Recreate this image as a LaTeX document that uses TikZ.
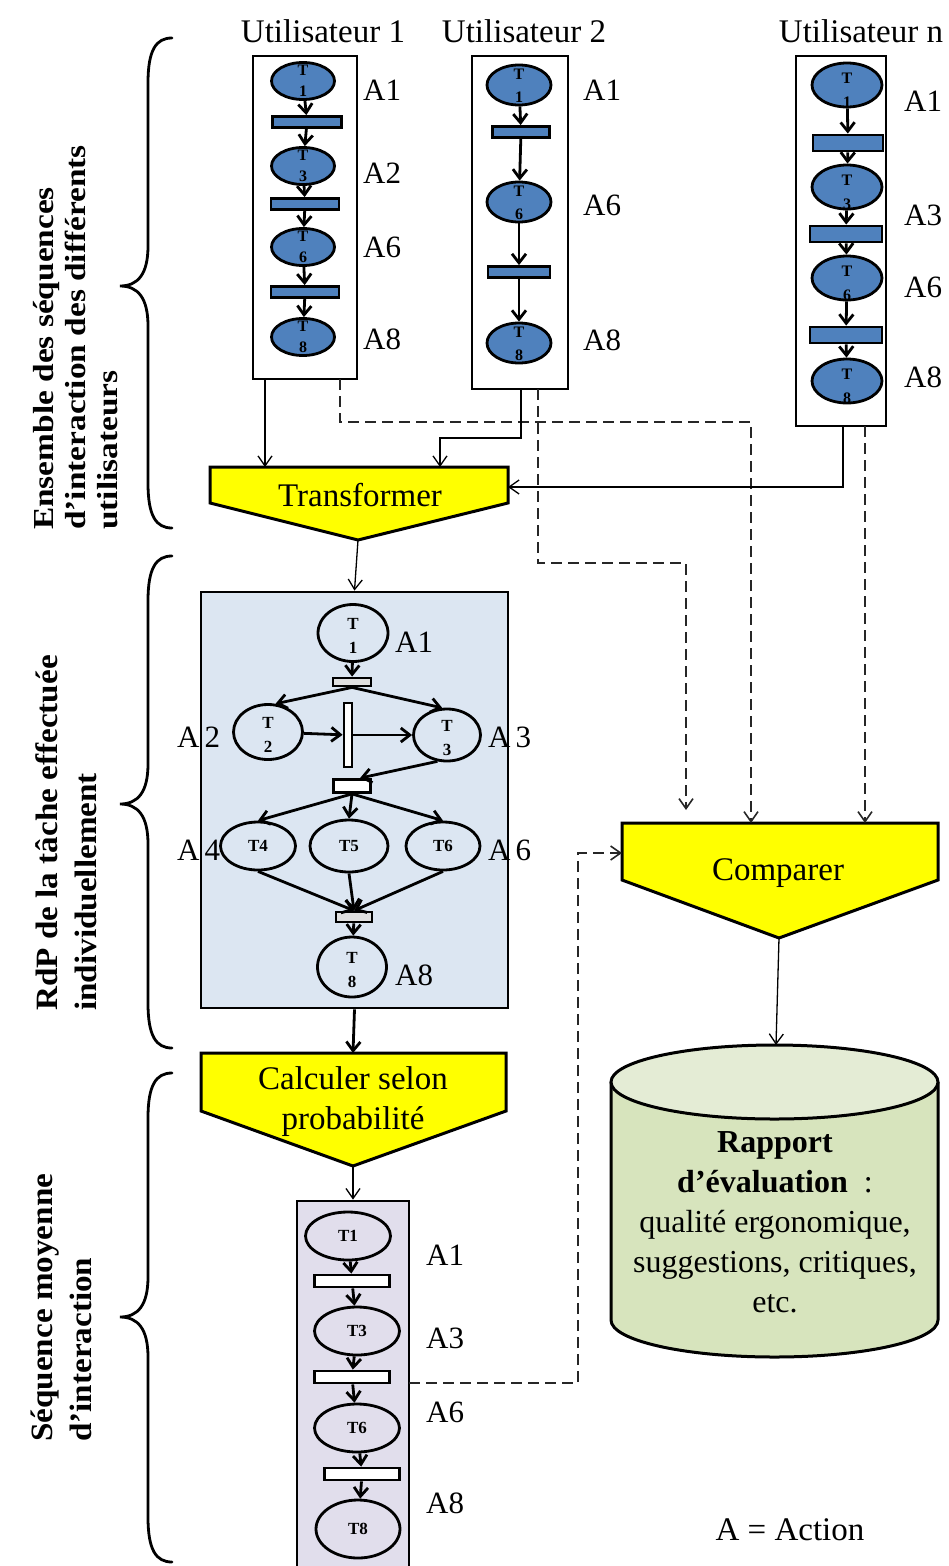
\documentclass[tikz,border=0pt]{standalone}
\usepackage{fontspec}
\usepackage{graphicx}
\setmainfont{Liberation Serif}
\usetikzlibrary{arrows.meta,shapes.geometric,calc}
\definecolor{pblue}{HTML}{4F81BD}
\definecolor{bbg}{HTML}{DCE6F2}
\definecolor{lbg}{HTML}{E1DEEC}
\definecolor{cylbody}{HTML}{D7E4BD}
\definecolor{cyltop}{HTML}{E4ECD5}
\definecolor{yel}{HTML}{FFFF00}
\newcommand\mybrace[3]{%
  \draw[bracestyle] (172,#1) .. controls (156,#1) and (148,{#1+12}) .. (148,{#1+45})
    -- (148,{#2-40}) .. controls (148,{#2-12}) and (138,#2) .. (120,#2)
    .. controls (138,#2) and (148,{#2+12}) .. (148,{#2+40})
    -- (148,{#3-45}) .. controls (148,{#3-12}) and (156,#3) .. (172,#3);}
\begin{document}
\begin{tikzpicture}[x=1pt,y=-1pt,
  sz/.style 2 args={minimum width=#1pt, minimum height=#2pt},
  ubox/.style={draw, line width=2.8pt, inner sep=0pt, rectangle},
  uplace/.style={ellipse, draw, line width=2.8pt, fill=pblue, inner sep=0pt},
  ubar/.style={rectangle, draw, line width=2.8pt, fill=pblue, inner sep=0pt},
  wplace/.style={ellipse, draw, line width=2.8pt, inner sep=0pt, font=\bfseries\fontsize{17}{20}\selectfont},
  wbar/.style={rectangle, draw, line width=2.8pt, fill=white, inner sep=0pt},
  gbar/.style={rectangle, draw, line width=2.8pt, fill=black!12, inner sep=0pt},
  parc/.style={line width=2.8pt, -{Straight Barb[length=9pt,width=14pt]}},
  ptxt/.style={font=\bfseries\fontsize{16}{21}\selectfont, align=center, inner sep=0pt},
  alab/.style={font=\fontsize{31}{36}\selectfont, anchor=base west, inner sep=0pt},
  big/.style={font=\fontsize{33}{40}\selectfont, inner sep=0pt, align=center},
  conn/.style={line width=1.3pt, -{Straight Barb[length=10pt,width=14pt]}},
  dconn/.style={conn, line width=1.6pt, draw=black!85, dash pattern=on 11pt off 6pt},
  yshape/.style={draw, line width=3pt, fill=yel, line join=miter},
  bracestyle/.style={line width=2.8pt, line cap=round},
  side/.style={rotate=90, anchor=north west, inner sep=0pt}
]
\useasboundingbox (0,0) rectangle (949,1566);
\clip (0,0) rectangle (949,1566);

% ---------- titles
\node[big, anchor=base] (t1) at (323,42) {Utilisateur 1};
\node[big, anchor=base] (t2) at (524,42) {Utilisateur 2};
\node[big, anchor=base] (tn) at (861,42) {Utilisateur n};

% ---------- user 1
\node[ubox, sz={104}{323}] (u1) at (305,217.5) {};
\node[uplace, sz={63}{37}] (u1p1) at (303,81) {};
\node[ubar, sz={69}{11}] (u1b1) at (307,122) {};
\node[uplace, sz={63}{37}] (u1p3) at (303,166) {};
\node[ubar, sz={68}{11}] (u1b2) at (305,204) {};
\node[uplace, sz={63}{37}] (u1p6) at (303,247) {};
\node[ubar, sz={68}{11}] (u1b3) at (305,292) {};
\node[uplace, sz={63}{37}] (u1p8) at (303,337) {};
\draw[parc] (u1p1) -- (u1b1);
\draw[parc] (u1b1) -- (u1p3);
\draw[parc] (u1p3) -- (u1b2);
\draw[parc] (u1b2) -- (u1p6);
\draw[parc] (u1p6) -- (u1b3);
\draw[parc] (u1b3) -- (u1p8);
\node[ptxt] (u1p1t) at (303,80.5) {T\\1};
\node[ptxt] (u1p3t) at (303,165.5) {T\\3};
\node[ptxt] (u1p6t) at (303,246.5) {T\\6};
\node[ptxt] (u1p8t) at (303,336.5) {T\\8};
\node[alab] (u1a1) at (363,100) {A1};
\node[alab] (u1a2) at (363,183) {A2};
\node[alab] (u1a6) at (363,257) {A6};
\node[alab] (u1a8) at (363,349) {A8};

% ---------- user 2
\node[ubox, sz={96}{333}] (u2) at (520,222.5) {};
\node[uplace, sz={64}{40}] (u2p1) at (519,85) {};
\node[ubar, sz={57}{11}] (u2b1) at (521,132) {};
\node[uplace, sz={64}{40}] (u2p6) at (519,202) {};
\node[ubar, sz={62}{11}] (u2b2) at (519,272) {};
\node[uplace, sz={64}{40}] (u2p8) at (519,343) {};
\draw[parc] (u2p1) -- (u2b1);
\draw[parc] (u2b1) -- (u2p6);
\draw[parc] (u2p6) -- (u2b2);
\draw[parc] (u2b2) -- (u2p8);
\node[ptxt, font=\bfseries\fontsize{16}{23}\selectfont] (u2p1t) at (519,85.5) {T\\1};
\node[ptxt, font=\bfseries\fontsize{16}{23}\selectfont] (u2p6t) at (519,202.5) {T\\6};
\node[ptxt, font=\bfseries\fontsize{16}{23}\selectfont] (u2p8t) at (519,343.5) {T\\8};
\node[alab] (u2a1) at (583,100) {A1};
\node[alab] (u2a6) at (583,215) {A6};
\node[alab] (u2a8) at (583,350) {A8};

% ---------- user n
\node[ubox, sz={90}{370}] (un) at (841,241) {};
\node[uplace, sz={70}{44}] (unp1) at (847,85) {};
\node[ubar, sz={70}{16}] (unb1) at (848,143) {};
\node[uplace, sz={70}{44}] (unp3) at (847,187) {};
\node[ubar, sz={72}{16}] (unb2) at (846,234) {};
\node[uplace, sz={70}{44}] (unp6) at (847,278) {};
\node[ubar, sz={72}{16}] (unb3) at (846,335) {};
\node[uplace, sz={70}{44}] (unp8) at (847,381) {};
\draw[parc] (unp1) -- (unb1);
\draw[parc] (unb1) -- (unp3);
\draw[parc] (unp3) -- (unb2);
\draw[parc] (unb2) -- (unp6);
\draw[parc] (unp6) -- (unb3);
\draw[parc] (unb3) -- (unp8);
\node[ptxt, font=\bfseries\fontsize{16}{24}\selectfont] (unp1t) at (847,90) {T\\1};
\node[ptxt, font=\bfseries\fontsize{16}{24}\selectfont] (unp3t) at (847,192) {T\\3};
\node[ptxt, font=\bfseries\fontsize{16}{24}\selectfont] (unp6t) at (847,283) {T\\6};
\node[ptxt, font=\bfseries\fontsize{16}{24}\selectfont] (unp8t) at (847,386) {T\\8};
\node[alab] (una1) at (904,111) {A1};
\node[alab] (una3) at (904,225) {A3};
\node[alab] (una6) at (904,297) {A6};
\node[alab] (una8) at (904,387) {A8};

% ---------- Transformer
\draw[yshape] (210,467) -- (508,467) -- (508,503) -- (358,540) -- (210,503) -- cycle;
\node[big, anchor=base] (trtxt) at (360,506) {Transformer};
\coordinate (trA) at (265,467);
\coordinate (trB) at (440,467);
\coordinate (trR) at (508,487);
\coordinate (trP) at (358,540);

% ---------- Comparer
\draw[yshape] (622,823) -- (938,823) -- (938,880) -- (779,938) -- (622,880) -- cycle;
\node[big, anchor=base] (cptxt) at (778,880) {Comparer};
\coordinate (cpL) at (622,853);
\coordinate (cpT1) at (686,810);
\coordinate (cpT2) at (751,823);
\coordinate (cpT3) at (865,823);
\coordinate (cpP) at (779,938);

% ---------- RdP box
\node[rectangle, draw, line width=2.8pt, fill=bbg, inner sep=0pt, sz={307}{416}] (bbox) at (354.5,800) {};
\node[wplace, sz={70}{57}] (bp1) at (353,633) {};
\node[gbar, sz={38}{8}] (bb1) at (352,682) {};
\node[wplace, sz={69}{55}] (bp2) at (268,732) {};
\node[wbar, sz={8}{64}] (bv) at (348,735) {};
\node[wplace, sz={67}{52}] (bp3) at (447,735) {};
\node[wbar, sz={37}{13}] (bb2) at (352,786) {};
\node[wplace, sz={75}{48}] (bp4) at (258,846) {T4};
\node[wplace, sz={78}{52}] (bp5) at (349,846) {T5};
\node[wplace, sz={74}{48}] (bp6) at (443,846) {T6};
\node[gbar, sz={36}{10}] (bb3) at (354,917) {};
\node[wplace, sz={69}{60}] (bp8) at (352,967) {};
\draw[parc] (bp1) -- (bb1);
\draw[parc] (bb1.south) -- (bp2.75);
\draw[parc] (bb1.south) -- (bp3.100);
\draw[parc] (bp2) -- (bv);
\draw[parc] (bv) -- (bp3);
\draw[parc] (bp3.250) -- ($(bb2.north)+(8,0)$);
\draw[parc] (bb2.south) -- (bp4.north);
\draw[parc] (bb2.south) -- (bp5.north);
\draw[parc] (bb2.south) -- (bp6.north);
\draw[parc] (bp4.south) -- (bb3.north);
\draw[parc] (bp5.south) -- (bb3.north);
\draw[parc] (bp6.south) -- (bb3.north);
\draw[parc] (bb3) -- (bp8);
\node[ptxt, font=\bfseries\fontsize{17}{24}\selectfont] (bp1t) at (353,636) {T\\1};
\node[ptxt, font=\bfseries\fontsize{17}{24}\selectfont] (bp2t) at (268,735) {T\\2};
\node[ptxt, font=\bfseries\fontsize{17}{24}\selectfont] (bp3t) at (447,738) {T\\3};
\node[ptxt, font=\bfseries\fontsize{17}{24}\selectfont] (bp8t) at (352,970) {T\\8};
\node[alab] (ba1) at (395,652) {A1};
\node[alab] (ba2) at (177,747) {A\kern5pt 2};
\node[alab] (ba3) at (488,747) {A\kern5pt 3};
\node[alab] (ba4) at (177,860) {A\kern5pt 4};
\node[alab] (ba6) at (488,860) {A\kern5pt 6};
\node[alab] (ba8) at (395,985) {A8};

% ---------- Calculer
\draw[yshape] (201,1053) -- (506,1053) -- (506,1111) -- (353,1166) -- (201,1111) -- cycle;
\node[big, anchor=north] (catxt) at (353,1066) {Calculer selon\\probabilité};
\coordinate (caT) at (353,1053);
\coordinate (caP) at (353,1166);

% ---------- average sequence box
\node[rectangle, draw, line width=2.8pt, fill=lbg, inner sep=0pt, sz={112}{399}] (lbox) at (353,1400.5) {};
\node[wplace, sz={85}{48}] (lp1) at (348,1236) {T1};
\node[wbar, sz={75}{12}] (lb1) at (352,1281) {};
\node[wplace, sz={85}{48}] (lp3) at (357,1331) {T3};
\node[wbar, sz={75}{12}] (lb2) at (352,1377) {};
\node[wplace, sz={85}{48}] (lp6) at (357,1428) {T6};
\node[wbar, sz={75}{12}] (lb3) at (362,1474) {};
\node[wplace, sz={84}{58}] (lp8) at (358,1529) {T8};
\draw[parc] (lp1) -- (lb1);
\draw[parc] (lb1) -- (lp3);
\draw[parc] (lp3) -- (lb2);
\draw[parc] (lb2) -- (lp6);
\draw[parc] (lp6) -- (lb3);
\draw[parc] (lb3) -- (lp8);
\node[alab] (la1) at (426,1265) {A1};
\node[alab] (la3) at (426,1348) {A3};
\node[alab] (la6) at (426,1422) {A6};
\node[alab] (la8) at (426,1513) {A8};
\coordinate (lbd) at (409,1383);

% ---------- report cylinder
\fill[cylbody] (611,1082) -- (611,1320) arc[start angle=180, end angle=0, x radius=163.5, y radius=37] -- (938,1082) -- cycle;
\draw[line width=3pt] (611,1082) -- (611,1320) arc[start angle=180, end angle=0, x radius=163.5, y radius=37] -- (938,1082);
\draw[line width=3pt, fill=cyltop] (774.5,1082) ellipse [x radius=163.5, y radius=37];
\coordinate (cyT) at (776,1045);
\node[font=\fontsize{32}{40}\selectfont, align=center, anchor=north, inner sep=0pt] (raptxt) at (775,1131)
  {\textbf{Rapport}\\\textbf{d’évaluation}\ \ :\\qualité ergonomique,\\suggestions, critiques,\\etc.};

\node[big, anchor=base] (legend) at (790,1540) {A = Action};

% ---------- connectors
\coordinate (u1s) at (265,379);
\coordinate (u1d) at (340,379);
\coordinate (u2s) at (521,389);
\coordinate (u2d) at (538,389);
\coordinate (uns) at (843,426);
\coordinate (und) at (865,426);
\draw[conn] (u1s) -- (trA);
\draw[dconn] (u1d) |- (751,422) -- (cpT2);
\draw[conn] (u2s) |- (440,438) -- (trB);
\draw[dconn] (u2d) |- (686,563) -- (cpT1);
\draw[conn] (uns) |- (trR);
\draw[dconn] (und) -- (cpT3);
\draw[dconn] (lbd) -| (578,853) -- (cpL);
\draw[conn] (trP) -- (bbox.north);
\draw[parc] (bbox.south) -- (caT);
\draw[conn] (caP) -- (lbox.north);
\draw[conn] (cpP) -- (cyT);

% ---------- braces and side texts
\mybrace{38}{286}{528}
\mybrace{556}{804}{1048}
\mybrace{1073}{1317}{1562}
\node[side, font=\bfseries\fontsize{29}{32}\selectfont] (s1) at (30.6,530)
  {\scalebox{1.15}[1]{\begin{tabular}{@{}l@{}}Ensemble des séquences\\d’interaction des différents\\utilisateurs\end{tabular}}};
\node[side, font=\bfseries\fontsize{31}{39}\selectfont] (s2) at (29.7,1011)
  {\scalebox{1.07}[1]{\begin{tabular}{@{}l@{}}RdP de la tâche effectuée\\individuellement\end{tabular}}};
\node[side, font=\bfseries\fontsize{31}{39}\selectfont] (s3) at (24.7,1442)
  {\scalebox{1.07}[1]{\begin{tabular}{@{}l@{}}Séquence moyenne\\d’interaction\end{tabular}}};
\end{tikzpicture}
\end{document}
